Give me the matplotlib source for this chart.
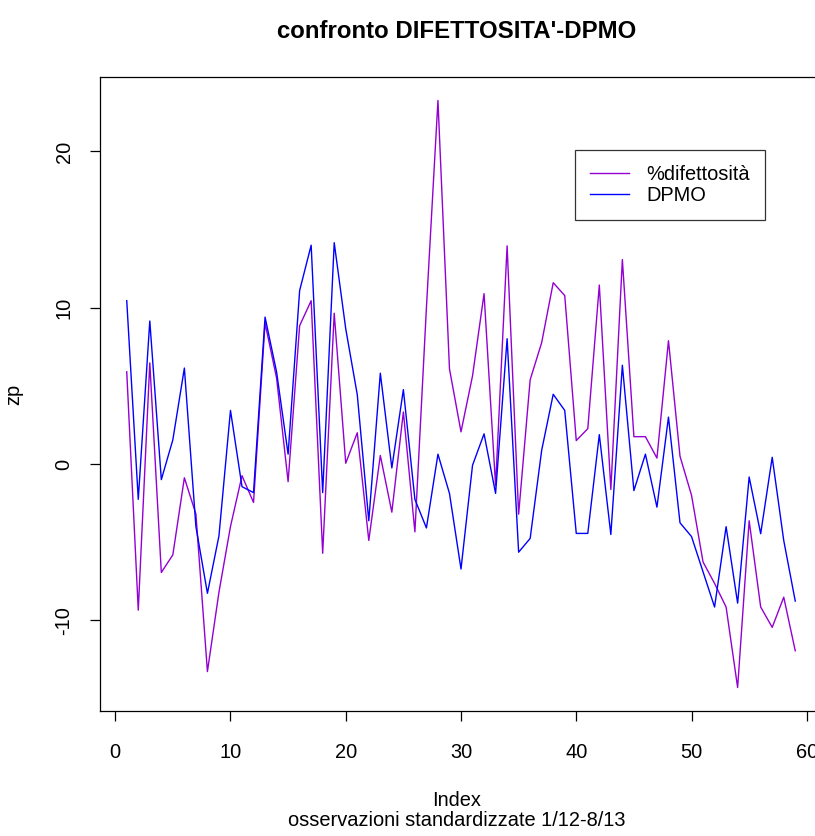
import matplotlib
matplotlib.use("Agg")
import matplotlib.pyplot as plt
import numpy as np

# standardised observations, 1/12 - 8/13
index = np.arange(1, 60)
difettosita = [5.9, -9.35, 6.47, -6.94, -5.81, -0.88, -3.2, -13.28, -8.2, -4.0,
               -0.75, -2.46, 9.02, 5.5, -1.13, 8.85, 10.45, -5.71, 9.65, 0.05,
               2.0, -4.89, 0.55, -3.08, 3.33, -4.34, 10.0, 23.26, 6.09, 2.06,
               5.64, 10.9, -1.38, 13.96, -3.21, 5.39, 7.77, 11.6, 10.78, 1.5,
               2.26, 11.45, -1.63, 13.08, 1.75, 1.75, 0.38, 7.89, 0.5, -2.0,
               -6.27, -7.64, -9.15, -14.3, -3.63, -9.15, -10.45, -8.52, -11.95]
dpmo = [10.45, -2.26, 9.15, -1.0, 1.55, 6.14, -4.0, -8.27, -4.6, 3.43,
        -1.45, -1.83, 9.4, 5.89, 0.63, 11.1, 14.0, -1.83, 14.16, 8.65,
        4.44, -3.63, 5.81, -0.25, 4.76, -2.26, -4.09, 0.63, -1.88, -6.72,
        -0.08, 1.93, -1.88, 8.02, -5.64, -4.76, 0.88, 4.46, 3.43, -4.44,
        -4.44, 1.88, -4.51, 6.32, -1.70, 0.63, -2.76, 3.0, -3.76, -4.64,
        -6.9, -9.15, -4.01, -8.9, -0.83, -4.46, 0.43, -4.89, -8.77]
x_ticks = [0, 10, 20, 30, 40, 50, 60]
y_ticks = [-10, 0, 10, 20]

plt.rcParams["font.family"] = ["Liberation Sans", "DejaVu Sans"]
FS = 14.4

W, H = 815, 836
fig = plt.figure(figsize=(W / 100, H / 100), dpi=100)
# R-style plot region; right edge falls just outside the picture
left, right, top, bottom = 100, 822, 77, 711
ax = fig.add_axes([left / W, 1 - bottom / H, (right - left) / W, (bottom - top) / H])

ax.plot(index, difettosita, color="#9400D3", lw=1.0, label="%difettosità")
ax.plot(index, dpmo, color="blue", lw=1.0, label="DPMO")

# R pads the data range by 4 % on each side
def padded(lo, hi):
    d = (hi - lo) * 0.04
    return lo - d, hi + d

ax.set_xlim(*padded(min(index), max(index)))
ax.set_ylim(*padded(min(min(difettosita), min(dpmo)), max(max(difettosita), max(dpmo))))

ax.set_xticks(x_ticks)
ax.set_yticks(y_ticks)
ax.set_yticklabels([str(t) for t in y_ticks], rotation=90, va="center")
ax.tick_params(direction="out", length=7, width=0.9, labelsize=FS, colors="black")
ax.tick_params(axis="x", pad=16)
ax.tick_params(axis="y", pad=12)
for s in ax.spines.values():
    s.set_linewidth(0.9)

pw = right - left
ph = bottom - top
leg = ax.legend(loc="upper left", bbox_to_anchor=((575 - left) / pw, (bottom - 150) / ph),
                borderaxespad=0, fancybox=False, edgecolor="black", fontsize=FS,
                handlelength=1.95, handletextpad=0.85, borderpad=0.75, labelspacing=0.1)
leg.get_frame().set_linewidth(0.9)

cx = 457 / W
fig.text(cx, 1 - 32 / H, "confronto DIFETTOSITA'-DPMO", ha="center", va="center",
         fontsize=FS * 1.2, fontweight="bold")
fig.text(cx, 1 - 801 / H, "Index", ha="center", va="center", fontsize=FS)
fig.text(cx, 1 - 821 / H, "osservazioni standardizzate 1/12-8/13", ha="center",
         va="center", fontsize=FS)
fig.text(14 / W, 1 - 394 / H, "zp", ha="center", va="center", rotation=90, fontsize=FS)

fig.savefig("out.png", dpi=100)
